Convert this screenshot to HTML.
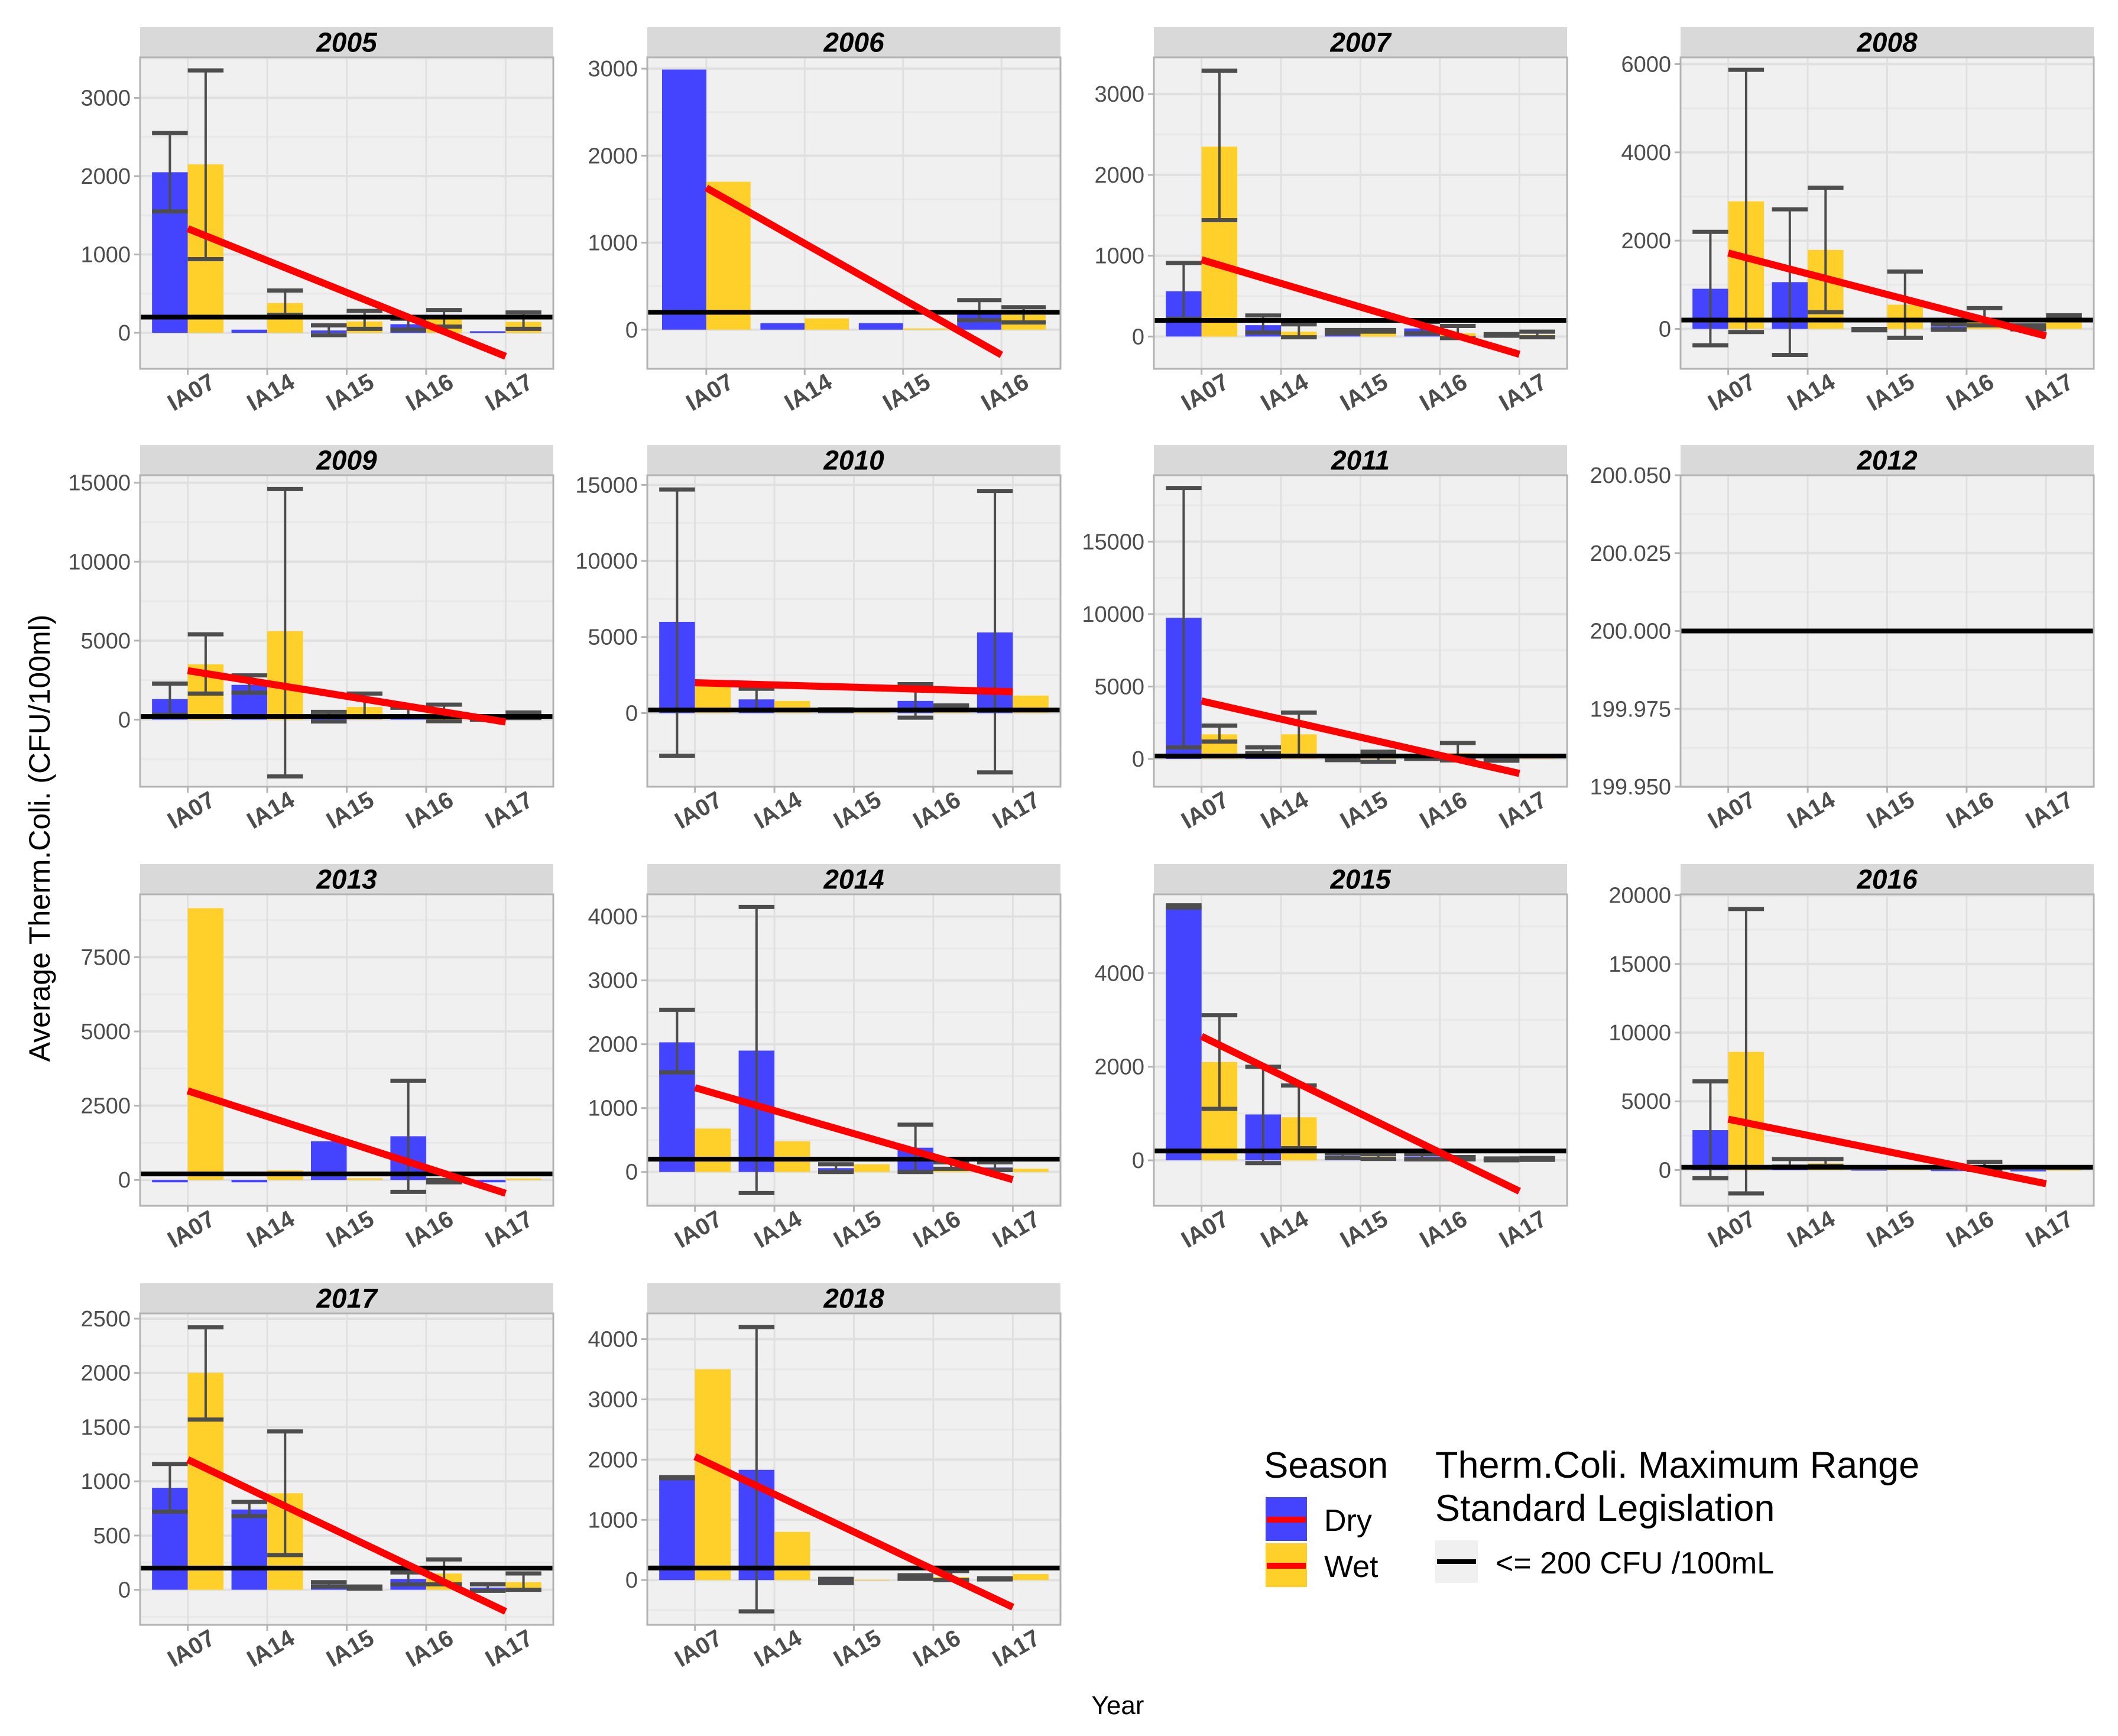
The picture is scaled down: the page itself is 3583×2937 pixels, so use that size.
<!DOCTYPE html>
<html><head><meta charset="utf-8">
<style>
html,body{margin:0;padding:0;background:#fff;}
svg{display:block;font-family:"Liberation Sans",Arial,sans-serif;}
</style></head>
<body>
<svg id="chart" width="3583" height="2937" viewBox="0 0 3583 2937" xmlns="http://www.w3.org/2000/svg">
<rect x="0" y="0" width="3583" height="2937" fill="#fff"/>
<g id="panels"></g>
<text x="0" y="0" transform="translate(84,1418) rotate(-90)" text-anchor="middle" font-size="50" fill="#000">Average Therm.Coli. (CFU/100ml)</text>
<text x="1891" y="2900" text-anchor="middle" font-size="44" fill="#000">Year</text>
<g>
<text x="2138" y="2500" font-size="62" fill="#000">Season</text>
<g>
<rect x="2141" y="2533" width="70" height="74" fill="#4444ff"/>
<rect x="2143" y="2566" width="66" height="10" fill="#ff0000"/>
<text x="2240" y="2590" font-size="52" fill="#000">Dry</text>
</g>
<g>
<rect x="2141" y="2611" width="70" height="74" fill="#ffd02a"/>
<rect x="2143" y="2644" width="66" height="10" fill="#ff0000"/>
<text x="2240" y="2668" font-size="52" fill="#000">Wet</text>
</g>
</g>
<g>
<text x="2428" y="2500" font-size="63" fill="#000">Therm.Coli. Maximum Range</text>
<text x="2428" y="2573" font-size="63" fill="#000">Standard Legislation</text>
<g>
<rect x="2428" y="2606" width="72" height="72" fill="#f0f0f0"/>
<rect x="2431" y="2638" width="66" height="8" fill="#000"/>
<text x="2530" y="2662" font-size="52" fill="#000">&lt;= 200 CFU /100mL</text>
</g>
</g>
</svg>
<script>
const years = ["2005","2006","2007","2008","2009","2010","2011","2012","2013","2014","2015","2016","2017","2018"];
const stations5 = ["IA07","IA14","IA15","IA16","IA17"];
const stations4 = ["IA07","IA14","IA15","IA16"];
const dryMeans = [
 [2050,40,30,110,20],[2990,75,75,225],[560,140,60,100,20],[910,1060,-20,50,50],
 [1300,2200,180,350,100],[6000,900,200,800,5300],[9750,500,-50,50,-100],[],
 [-80,-80,1300,1470,-80],[2030,1900,60,380,70],[5420,980,100,80,20],[2900,300,-50,-80,-100],
 [940,740,50,100,20],[1700,1830,-30,50,20]];
const wetMeans = [
 [2150,380,145,185,140],[1700,130,15,170],[2350,60,70,40,20],[2890,1790,550,230,270],
 [3500,5600,800,400,250],[1800,800,200,350,1150],[1700,1700,300,400,100],[],
 [9150,320,60,-50,50],[680,480,120,80,50],[2100,920,80,40,30],[8600,500,200,200,0],
 [2000,890,20,150,70],[3500,800,-10,50,100]];
const dryLow = [
 [1550,null,-30,40,null],[null,null,null,110],[220,50,40,40,10],[-370,-590,-30,-20,-10],
 [300,1700,-120,200,0],[-2800,200,150,-300,-3900],[800,400,-80,0,-120],[],
 [null,null,null,-400,null],[1560,-330,0,0,30],[5400,-60,50,20,0],[-600,250,null,null,null],
 [720,680,30,50,-10],[1690,-520,-50,20,10]];
const dryHigh = [
 [2550,null,95,180,null],[null,null,null,340],[910,260,80,180,30],[2200,2710,0,100,80],
 [2280,2800,490,750,200],[14700,1600,250,1900,14600],[18700,800,0,100,-80],[],
 [null,null,null,3340,null],[2540,4150,120,740,150],[5450,2000,150,130,40],[6450,800,null,null,null],
 [1160,810,70,160,50],[1710,4200,20,80,30]];
const wetLow = [
 [940,230,50,80,50],[null,null,null,83],[1440,-10,60,-20,-10],[-70,380,-200,80,230],
 [1650,-3600,150,-100,100],[null,null,null,250,null],[1200,200,-200,-100,null],[],
 [null,null,null,-80,null],[null,null,null,50,null],[1100,260,30,20,10],[-1700,300,null,0,null],
 [1570,320,10,50,0],[null,null,null,0,null]];
const wetHigh = [
 [3350,540,280,290,260],[null,null,null,258],[3290,150,80,130,60],[5870,3200,1300,470,310],
 [5400,14600,1650,950,450],[null,null,null,500,null],[2300,3200,500,1100,null],[],
 [null,null,null,0,null],[null,null,null,150,null],[3100,1600,130,70,50],[19000,800,null,600,null],
 [2420,1460,30,280,150],[null,null,null,150,null]];
const trendStart = [1330,1630,950,1720,3100,2000,4000,null,3000,1320,2650,3700,1200,2050];
const trendEnd = [-300,-290,-220,-160,-150,1400,-1000,null,-450,-120,-660,-1000,-200,-450];
const yMin = [-460,-450,-400,-904,-4250,-4840,-1917,199.95,-871,-530,-972,-2606,-324,-744];
const yMax = [3517,3130,3455,6153,15474,15635,19583,200.05,9617,4348,5685,20070,2549,4428];
const tickStep = [1000,1000,1000,2000,5000,5000,5000,0.025,2500,1000,2000,5000,500,1000];
const standardLimit = 200;

const NS = "http://www.w3.org/2000/svg";
const colLeft = [237,1095,1952,2843];
const rowTop = [46,753,1462,2171];
const PW = 699, SH = 51, PH = 527;
const root = document.getElementById('panels');
function mk(tag, attrs, parent){
  const e = document.createElementNS(NS, tag);
  for (const k in attrs) e.setAttribute(k, attrs[k]);
  parent.appendChild(e);
  return e;
}
years.forEach((yr, i) => {
  const col = i % 4, row = Math.floor(i / 4);
  const L = colLeft[col], T = rowTop[row] + SH, B = T + PH;
  const cats = (yr === "2006") ? stations4 : stations5;
  const n = cats.length;
  const step = PW / (n + 0.2);
  const xs = k => L + (k + 0.6) * step;
  const ys = v => T + (yMax[i] - v) / (yMax[i] - yMin[i]) * PH;
  const g = mk('g', {}, root);
  
  
  const strip = mk('rect', {x:L, y:rowTop[row], width:PW, height:SH, fill:'#d9d9d9'}, g);
  
  
  mk('line', {x1:L, x2:L+PW, y1:T, y2:T, stroke:'#b3b3b3', 'stroke-width':3}, g);
  const st = mk('text', {x:L+PW/2, y:rowTop[row]+SH/2+16, 'text-anchor':'middle', 'font-size':46, 'font-weight':'bold', 'font-style':'italic', fill:'#000'}, g);
  st.textContent = yr;
  
  
  mk('rect', {x:L, y:T, width:PW, height:PH, fill:'#f0f0f0'}, g);
  const s = tickStep[i];
  const startT = Math.ceil((yMin[i] - 1e-9) / (s/2)) * (s/2);
  for (let v = startT; v <= yMax[i] + 1e-9; v += s/2) {
    const isMajor = Math.abs(Math.round(v / s) * s - v) < s * 1e-3;
    mk('line', {x1:L, x2:L+PW, y1:ys(v), y2:ys(v), stroke: isMajor ? '#e0e0e0' : '#e8e8e8', 'stroke-width': isMajor ? 4 : 3}, g);
    if (isMajor) {
      mk('line', {x1:L-10, x2:L, y1:ys(v), y2:ys(v), stroke:'#b3b3b3', 'stroke-width':3}, g);
      const t = mk('text', {x:L-16, y:ys(v)+13, 'text-anchor':'end', 'font-size':38, fill:'#4d4d4d'}, g);
      t.textContent = (yr === "2012") ? v.toFixed(3) : String(Math.round(v));
      
      
    }
  }
  cats.forEach((c, k) => {
    mk('line', {x1:xs(k), x2:xs(k), y1:T, y2:B, stroke:'#e0e0e0', 'stroke-width':3}, g);
    mk('line', {x1:xs(k), x2:xs(k), y1:B, y2:B+10, stroke:'#b3b3b3', 'stroke-width':3}, g);
    const t = mk('text', {x:0, y:0, transform:'translate(' + (xs(k)+6) + ',' + (B+40) + ') rotate(-30)', 'text-anchor':'middle', 'dominant-baseline':'central', 'font-size':40, 'font-weight':'bold', fill:'#4d4d4d'}, g);
    t.textContent = c;
    
    
  });
  const bw = step * 0.45;
  const series = [
    {name:'dry', vals:dryMeans[i], lo:dryLow[i], hi:dryHigh[i], color:'#4444ff', off:-1},
    {name:'wet', vals:wetMeans[i], lo:wetLow[i], hi:wetHigh[i], color:'#ffd02a', off:0}
  ];
  series.forEach(se => {
    se.vals.forEach((v, k) => {
      const x0 = xs(k) + se.off * bw;
      const y0 = ys(Math.max(v, 0)), y1 = ys(Math.min(v, 0));
      const r = mk('rect', {x:x0, y:y0, width:bw, height:Math.max(y1 - y0, 1), fill:se.color}, g);
      
      
    });
  });
  series.forEach(se => {
    se.vals.forEach((v, k) => {
      const lo = se.lo[k], hi = se.hi[k];
      if (lo === null || hi === null || lo === undefined) return;
      const x0 = xs(k) + se.off * bw, xc = x0 + bw/2;
      const eg = mk('g', {stroke:'#4d4d4d', 'stroke-width':4, fill:'none'}, g);
      
      
      mk('line', {x1:xc, x2:xc, y1:ys(lo), y2:ys(hi)}, eg);
      mk('line', {x1:x0, x2:x0+bw, y1:ys(lo), y2:ys(lo), 'stroke-width':7}, eg);
      mk('line', {x1:x0, x2:x0+bw, y1:ys(hi), y2:ys(hi), 'stroke-width':7}, eg);
    });
  });
  if (standardLimit >= yMin[i] && standardLimit <= yMax[i]) {
    const hl = mk('line', {x1:L, x2:L+PW, y1:ys(standardLimit), y2:ys(standardLimit), stroke:'#000', 'stroke-width':8}, g);
    
    
  }
  if (trendStart[i] !== null) {
    const tl = mk('line', {x1:xs(0), x2:xs(n-1), y1:ys(trendStart[i]), y2:ys(trendEnd[i]), stroke:'#ff0000', 'stroke-width':12}, g);
    
    
  }
  mk('rect', {x:L, y:T, width:PW, height:PH, fill:'none', stroke:'#b3b3b3', 'stroke-width':3}, g);
});
</script>
</body></html>
